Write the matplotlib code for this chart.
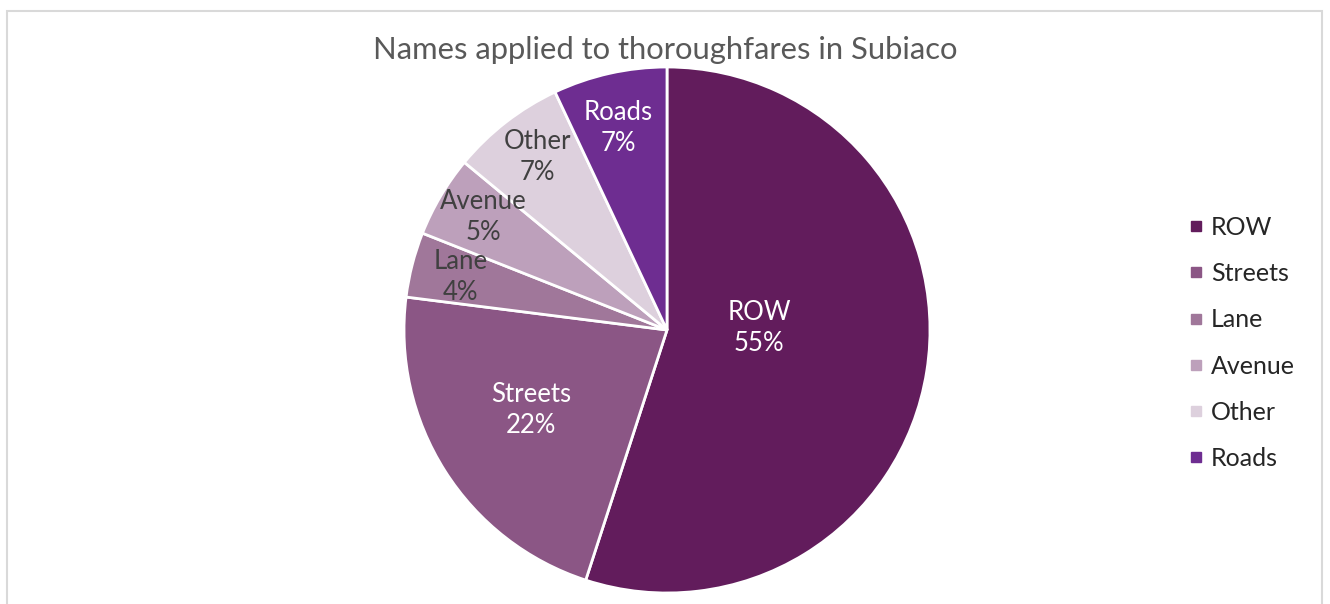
import numpy as np
import matplotlib
matplotlib.use('Agg')
import matplotlib.pyplot as plt
from matplotlib.lines import Line2D
from matplotlib.patches import Rectangle

plt.rcParams['font.family'] = ['Lato', 'DejaVu Sans']

# data
categories = ['ROW', 'Streets', 'Lane', 'Avenue', 'Other', 'Roads']
shares = [55, 22, 4, 5, 7, 7]
colors = ['#621c5c', '#8b5685', '#a0779a', '#bda0bb', '#ddd0dd', '#6e2d91']
text_colors = ['white', 'white', '#404040', '#404040', '#404040', 'white']
label_radius = [0.35, 0.60, 0.81, 0.82, 0.82, 0.79]
label_turn = [10, -2, 0, -1, -1, 1]  # degrees, nudges labels like Excel does

fig = plt.figure(figsize=(13.3, 6.04), dpi=100)

# chart border (bottom edge falls outside the picture)
fig.patches.append(Rectangle((7 / 1330, -0.05), 1315 / 1330, 1.05 - 11 / 604,
                             transform=fig.transFigure, fill=False,
                             edgecolor='#d9d9d9', linewidth=1.5))

ax = fig.add_axes([404 / 1330, 11 / 604, 526 / 1330, 526 / 604])
wedges, _ = ax.pie(shares, colors=colors, startangle=90, counterclock=False,
                   wedgeprops=dict(edgecolor='white', linewidth=2))
ax.set_xlim(-1, 1)
ax.set_ylim(-1, 1)
ax.set_aspect('equal')

total = sum(shares)
for w, cat, val, tc, r, turn in zip(wedges, categories, shares, text_colors,
                                    label_radius, label_turn):
    mid = np.deg2rad((w.theta1 + w.theta2) / 2 + turn)
    ax.text(r * np.cos(mid), r * np.sin(mid), f'{cat}\n{round(100 * val / total)}%',
            ha='center', va='center', color=tc, fontsize=18.5,
            linespacing=1.3)

fig.text(0.5, 1 - 50 / 604, 'Names applied to thoroughfares in Subiaco',
         ha='center', va='center', fontsize=22.3, color='#595959')

handles = [Line2D([], [], linestyle='none', marker='s', markersize=7,
                  markerfacecolor=c, markeredgecolor=c) for c in colors]
leg = fig.legend(handles, categories, loc='center left',
                 bbox_to_anchor=(1176 / 1330, 1 - 343 / 604), frameon=False,
                 fontsize=18, handlelength=0.6, handletextpad=0.3,
                 labelspacing=0.93, borderpad=0)
for t in leg.get_texts():
    t.set_color('#262626')

fig.savefig('out.png', dpi=100)
